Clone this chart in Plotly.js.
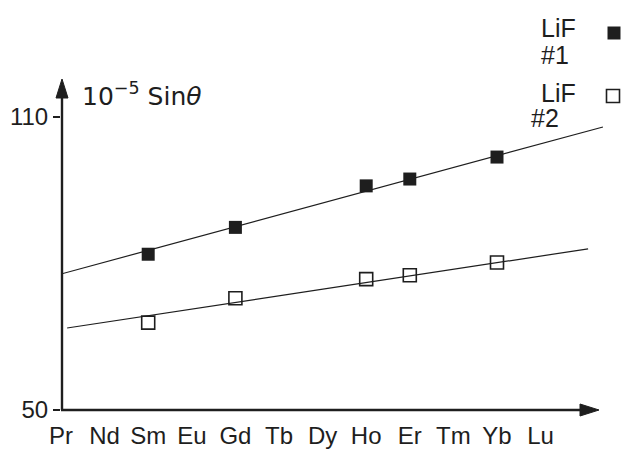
<!DOCTYPE html>
<html>
<head>
<meta charset="utf-8">
<script src="https://cdn.plot.ly/plotly-3.0.1.min.js"></script>
<style>
  html, body { margin: 0; padding: 0; background: #fff; }
  #chart { width: 621px; height: 451px; }
</style>
</head>
<body>
<div id="chart"></div>
<script>
// Lanthanide sequence along the horizontal axis
const elements = ['Pr', 'Nd', 'Sm', 'Eu', 'Gd', 'Tb', 'Dy', 'Ho', 'Er', 'Tm', 'Yb', 'Lu'];

// Measured points (10^-5 sin θ)
const measuredOn = ['Sm', 'Gd', 'Ho', 'Er', 'Yb'];
const lif1Values = [81.9, 87.4, 95.9, 97.3, 101.8];
const lif2Values = [67.9, 72.9, 76.8, 77.6, 80.2];

// Straight-line fits through each series (position along the axis, value)
const fit1X = [0, 12.43];
const fit1Y = [77.85, 107.96];
const fit2X = [0.14, 12.09];
const fit2Y = [66.8, 83.0];

// Y tick values
const yTicks = [50, 110];

const ink = '#1e1e1e';
const font = 'Liberation Sans, Arial, sans-serif';
const measuredX = measuredOn.map(e => elements.indexOf(e));

const traces = [
  { x: fit1X, y: fit1Y, mode: 'lines', line: { color: ink, width: 1.2 }, hoverinfo: 'skip' },
  { x: fit2X, y: fit2Y, mode: 'lines', line: { color: ink, width: 1.2 }, hoverinfo: 'skip' },
  {
    x: measuredX, y: lif1Values, mode: 'markers', cliponaxis: false,
    marker: { symbol: 'square', size: 13, color: ink, line: { color: ink, width: 0 } }
  },
  {
    x: measuredX, y: lif2Values, mode: 'markers', cliponaxis: false,
    marker: { symbol: 'square-open', size: 13, color: ink, line: { width: 1.6 } }
  }
];

// plot area geometry in pixels (used for the key and the axis arrows)
const L = 61, T = 80, W = 544, H = 330;
const px = v => (v - L) / W;
const py = v => (T + H - v) / H;

function keySquare(cx, cy, filled) {
  return {
    type: 'rect', xref: 'paper', yref: 'paper',
    xsizemode: 'pixel', ysizemode: 'pixel',
    xanchor: px(cx), yanchor: py(cy),
    x0: -6.5, x1: 6.5, y0: -6.5, y1: 6.5,
    line: { color: ink, width: filled ? 0 : 1.6 },
    fillcolor: filled ? ink : 'rgba(0,0,0,0)'
  };
}

function keyText(text, x, y) {
  return {
    xref: 'paper', yref: 'paper', x: px(x), y: py(y),
    xanchor: 'left', yanchor: 'middle', showarrow: false,
    text: text, font: { family: font, size: 25, color: ink }
  };
}

// axis line with a filled arrowhead, in pixel coordinates of the page
function axisLine(x0, y0, x1, y1) {
  return { type: 'line', xref: 'paper', yref: 'paper',
    x0: px(x0), y0: py(y0), x1: px(x1), y1: py(y1),
    line: { color: ink, width: 2.4 } };
}
function arrowHead(pts) {
  const d = pts.map((p, i) => (i ? 'L' : 'M') + px(p[0]) + ',' + py(p[1])).join(' ') + ' Z';
  return { type: 'path', xref: 'paper', yref: 'paper', path: d,
    fillcolor: ink, line: { color: ink, width: 1 } };
}

const layout = {
  width: 621, height: 451,
  margin: { l: L, r: 621 - L - W, t: T, b: 451 - T - H, pad: 0 },
  paper_bgcolor: '#fff', plot_bgcolor: '#fff',
  showlegend: false,
  xaxis: {
    range: [0, W / 43.6],
    tickmode: 'array',
    tickvals: elements.map((_, i) => i),
    ticktext: elements,
    ticks: '', showgrid: false, zeroline: false, showline: false,
    ticklabelstandoff: 9,
    tickfont: { family: font, size: 24, color: ink }
  },
  yaxis: {
    range: [50, 50 + H / 4.883],
    tickmode: 'array', tickvals: yTicks,
    ticks: 'outside', ticklen: 7, tickwidth: 2, tickcolor: ink,
    showgrid: false, zeroline: false, showline: false,
    tickfont: { family: font, size: 24, color: ink }
  },
  shapes: [
    axisLine(61, 410, 584, 410),
    arrowHead([[580, 404], [599, 410], [580, 416]]),
    axisLine(62, 410, 62, 96),
    arrowHead([[56, 98], [62, 79], [68, 98]]),
    keySquare(614, 33, true),
    keySquare(613, 96, false)
  ],
  annotations: [
    // quantity on the vertical axis
    { xref: 'paper', yref: 'paper', x: px(80), y: py(94), xanchor: 'left', yanchor: 'middle',
      showarrow: false, text: '10<sup>−5</sup> Sin<i>θ</i>',
      font: { family: 'DejaVu Sans, sans-serif', size: 25, color: ink } },
    // key
    keyText('LiF', 539, 28),
    keyText('#1', 539, 55),
    keyText('LiF', 539, 93),
    keyText('#2', 529, 118)
  ]
};

Plotly.newPlot('chart', traces, layout, { staticPlot: true, displayModeBar: false });
</script>
</body>
</html>
